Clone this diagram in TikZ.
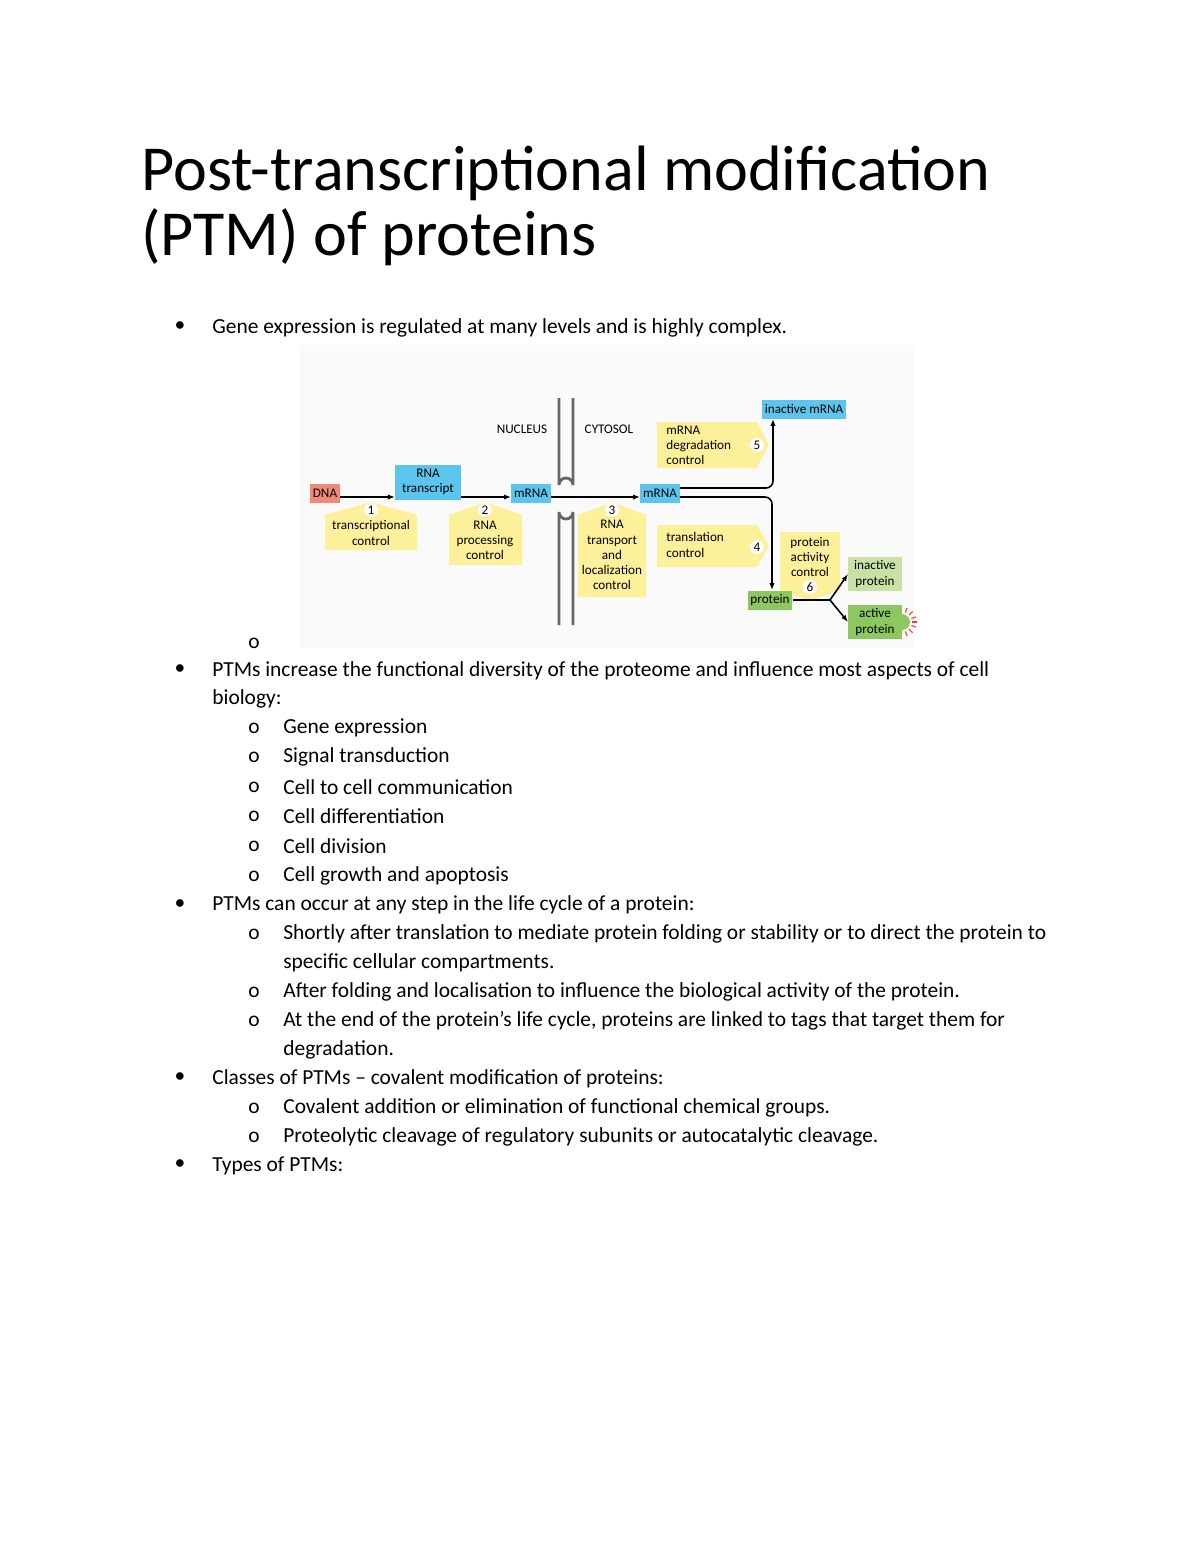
\documentclass[tikz,border=0pt]{standalone}
\usepackage{fontspec}
\setmainfont{Carlito}
\usetikzlibrary{arrows.meta,calc}
\definecolor{ylw}{HTML}{FDF09A}
\definecolor{blu}{HTML}{5BC5EE}
\definecolor{dnar}{HTML}{EE8A77}
\definecolor{grn}{HTML}{8CC760}
\definecolor{lgrn}{HTML}{C8E2A5}
\begin{document}
\begin{tikzpicture}[x=0.02cm,y=-0.02cm,
  body/.style={anchor=west,inner sep=0pt,font=\fontsize{12.2}{14}\selectfont},
  bul/.style={anchor=center,inner sep=0pt,font=\fontsize{12.2}{14}\selectfont},
  dtxt/.style={inner sep=0pt,align=center,font=\fontsize{7.5}{8.6}\selectfont},
  dbox/.style={draw=none,inner sep=1.5pt,minimum height=19*0.02cm,align=center,font=\fontsize{7.5}{8.6}\selectfont},
  num/.style={circle,fill=white,inner sep=0.6pt,font=\fontsize{7.5}{8}\selectfont},
  ln/.style={line width=0.9pt,rounded corners=4pt},
  arr/.style={ln,-{Latex[length=4pt,width=3pt]}}]
\useasboundingbox (0,0) rectangle (1200,1553);
\fill[white] (0,0) rectangle (1200,1553);
% title
\node[anchor=west,inner sep=0pt,font=\fontsize{36.5}{40}\selectfont] (t1) at (141,173) {Post-transcriptional modification};
\node[anchor=west,inner sep=0pt,font=\fontsize{36.5}{40}\selectfont] (t2) at (141,237) {(PTM) of proteins};
% diagram background
\fill[black!2] (300,345) rectangle (915,648);
% membrane
\draw[black!60,line width=1.6pt] (559,398) -- (559,485) arc[start angle=180,end angle=360,radius=7] -- (573,398);
\draw[black!60,line width=1.6pt] (559,625) -- (559,512) arc[start angle=180,end angle=0,radius=7] -- (573,625);
\node[dtxt,anchor=center] (nuc) at (522,429) {NUCLEUS};
\node[dtxt,anchor=center] (cyt) at (609,429) {CYTOSOL};
% yellow boxes
\fill[ylw] (325,550) -- (325,515) -- (371,502) -- (417,515) -- (417,550) -- cycle;
\fill[ylw] (449,565) -- (449,515) -- (485,502) -- (522,515) -- (522,565) -- cycle;
\fill[ylw] (578,597) -- (578,515) -- (612,502) -- (646,515) -- (646,597) -- cycle;
\fill[ylw] (657,422) -- (757,422) -- (769,445) -- (757,468) -- (657,468) -- cycle;
\fill[ylw] (657,525) -- (757,525) -- (769,546) -- (757,567) -- (657,567) -- cycle;
\fill[ylw] (780,532) -- (840,532) -- (840,590) -- (810,601) -- (780,590) -- cycle;
\node[num] (n1) at (371,510) {1};
\node[dtxt] (c1) at (371,533) {transcriptional\\control};
\node[num] (n2) at (485,510) {2};
\node[dtxt] (c2) at (485,540) {RNA\\processing\\control};
\node[num] (n3) at (612,510) {3};
\node[dtxt] (c3) at (612,555) {RNA\\transport\\and\\localization\\control};
\node[dtxt,align=left,anchor=west] (c5) at (666,445) {mRNA\\degradation\\control};
\node[num] (n5) at (757,445) {5};
\node[dtxt,align=left,anchor=west] (c4) at (666,545) {translation\\control};
\node[num] (n4) at (757,547) {4};
\node[dtxt] (c6) at (810,557) {protein\\activity\\control};
\node[num] (n6) at (810,587) {6};
% molecule boxes
\node[dbox,fill=dnar] (dna) at (325,493) {DNA};
\node[dbox,fill=blu,minimum height=35*0.02cm,text width=60*0.02cm] (rt) at (428,482) {RNA\\transcript};
\node[dbox,fill=blu] (m1) at (531,493) {mRNA};
\node[dbox,fill=blu] (m2) at (660,493) {mRNA};
\node[dbox,fill=blu] (im) at (804,409) {inactive mRNA};
\node[dbox,fill=grn] (pr) at (770,600) {protein};
\node[dbox,fill=lgrn,text width=48*0.02cm,minimum height=34*0.02cm] (ip) at (875,574) {inactive\\protein};
\node[dbox,fill=grn,text width=48*0.02cm,minimum height=34*0.02cm] (ap) at (875,622) {active\\protein};
\fill[grn] (ap.east) circle[radius=8];
\foreach \a in {-70,-45,-20,0,20,45,70}
  \draw[red!80,line width=0.6pt] ($(ap.east)+(\a:10)$) -- ($(ap.east)+(\a:15)$);
% connectors
\coordinate (y497) at (0,497);
\coordinate (y488) at (0,488);
\coordinate (x773) at (773,0);
\coordinate (x772) at (772,0);
\draw[arr] (dna.east|-y497) -- (rt.west|-y497);
\draw[arr] (rt.east|-y497) -- (m1.west|-y497);
\draw[arr] (m1.east|-y497) -- (m2.west|-y497);
\draw[arr] (m2.east|-y488) -- (x773|-y488) -- (x773|-im.south);
\draw[arr] (m2.east|-y497) -- (x772|-y497) -- (x772|-pr.north);
\coordinate (br) at (830,600);
\draw[ln] (pr.east) -- (br);
\draw[arr,rounded corners=0pt] (br) -- (ip.west);
\draw[arr,rounded corners=0pt] (br) -- (ap.west);
% bullets text
\node[bul] (b1) at (180,327) {•};
\node[body] (l1) at (212,328) {Gene expression is regulated at many levels and is highly complex.};
\node[bul] (o0) at (254,643) {o};
\node[bul] (b2) at (180,670) {•};
\node[body] (l2) at (212,671) {PTMs increase the functional diversity of the proteome and influence most aspects of cell};
\node[body] (l2b) at (212,699) {biology:};
\foreach \y/\t in {728/Gene expression,757/Signal transduction,787/Cell to cell communication,816/Cell differentiation,846/Cell division,876/Cell growth and apoptosis}{
  \node[bul] at (254,\y) {o};
  \node[body] at (283,\y) {\t};
}
\node[bul] (b3) at (180,905) {•};
\node[body] (l3) at (212,905) {PTMs can occur at any step in the life cycle of a protein:};
\node[bul] at (254,934) {o};
\node[body] at (283,934) {Shortly after translation to mediate protein folding or stability or to direct the protein to};
\node[body] at (283,963) {specific cellular compartments.};
\node[bul] at (254,992) {o};
\node[body] at (283,992) {After folding and localisation to influence the biological activity of the protein.};
\node[bul] at (254,1021) {o};
\node[body] at (283,1021) {At the end of the protein’s life cycle, proteins are linked to tags that target them for};
\node[body] at (283,1050) {degradation.};
\node[bul] (b4) at (180,1078) {•};
\node[body] (l4) at (212,1079) {Classes of PTMs – covalent modification of proteins:};
\node[bul] at (254,1108) {o};
\node[body] at (283,1108) {Covalent addition or elimination of functional chemical groups.};
\node[bul] at (254,1137) {o};
\node[body] at (283,1137) {Proteolytic cleavage of regulatory subunits or autocatalytic cleavage.};
\node[bul] (b5) at (180,1165) {•};
\node[body] (l5) at (212,1166) {Types of PTMs:};
\end{tikzpicture}
\end{document}
